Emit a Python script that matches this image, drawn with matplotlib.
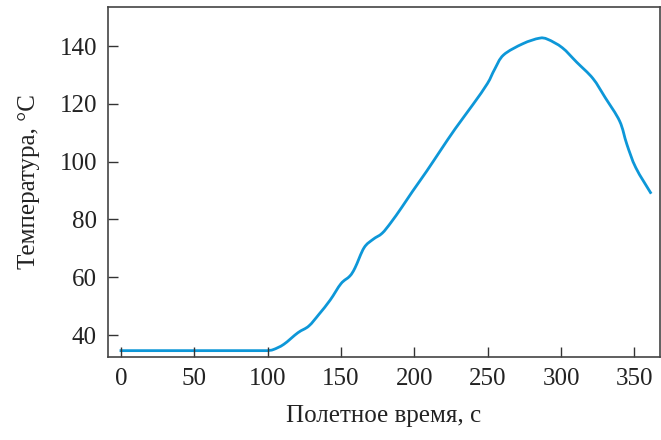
import matplotlib
matplotlib.use("Agg")
import matplotlib.pyplot as plt
from matplotlib.path import Path
from matplotlib.patches import PathPatch
import numpy as np

plt.rcParams['font.family'] = ['Liberation Serif', 'DejaVu Serif']

time_s = [-1, 100, 104, 111, 120.6, 128, 135, 142.6, 150, 156, 159.6, 165.7, 171.8,
          178, 184, 191.3, 198.6, 208.4, 218, 227.9, 240, 249.8, 254.7, 260.8,
          274, 285.2, 291, 300.9, 310.7, 321.7, 330.2, 340, 344.9, 351, 361.5]
temp_c = [34.6, 34.6, 35.0, 36.8, 40.8, 43.1, 47.2, 52.1, 57.8, 60.4, 63.3, 70.2, 73.1,
          75.2, 78.9, 84.1, 89.6, 96.7, 104, 111.4, 119.8, 127, 131.9, 136.9,
          140.8, 142.7, 142.3, 139.4, 134.4, 128.8, 122.1, 114, 106, 97.9, 88.9]
x_ticks = [0, 50, 100, 150, 200, 250, 300, 350]
y_ticks = [40, 60, 80, 100, 120, 140]

fig = plt.figure(figsize=(6.61, 4.40), dpi=100)
ax = fig.add_axes([108/661, 83/440, 552/661, 350/440])

# smooth rendering of the polyline through the read points (Catmull-Rom -> Bezier)
P = np.column_stack([time_s, temp_c])
verts = [tuple(P[0])]
codes = [Path.MOVETO]
n = len(P)
for i in range(n - 1):
    p0 = P[i - 1] if i > 0 else P[i]
    p1 = P[i]
    p2 = P[i + 1]
    p3 = P[i + 2] if i + 2 < n else P[i + 1]
    if i == 0:
        c1, c2 = p1, p2
    else:
        c1 = p1 + (p2 - p0) / 6.0
        c2 = p2 - (p3 - p1) / 6.0
        if i == 1:
            c1 = p1 + (p2 - p1) / 3.0
    verts += [tuple(c1), tuple(c2), tuple(p2)]
    codes += [Path.CURVE4] * 3
ax.add_patch(PathPatch(Path(verts, codes), facecolor='none', edgecolor='#0d97d8',
                       lw=2.0, capstyle='butt'))

ax.set_xlim(-8.9, 367.5)
ax.set_ylim(32.4, 153.5)
ax.set_xticks(x_ticks)
ax.set_yticks(y_ticks)
ax.tick_params(direction='in', length=7, width=1, colors='#333333', labelsize=18,
               labelcolor='#222222', pad=8)
for s in ax.spines.values():
    s.set_color('#444444')
    s.set_linewidth(1.2)

ax.set_xlabel('Полетное время, с', fontsize=18, color='#222222', labelpad=11)
ax.set_ylabel('Температура, °C', fontsize=18, color='#222222', labelpad=14)

fig.savefig('out.png', dpi=100)
